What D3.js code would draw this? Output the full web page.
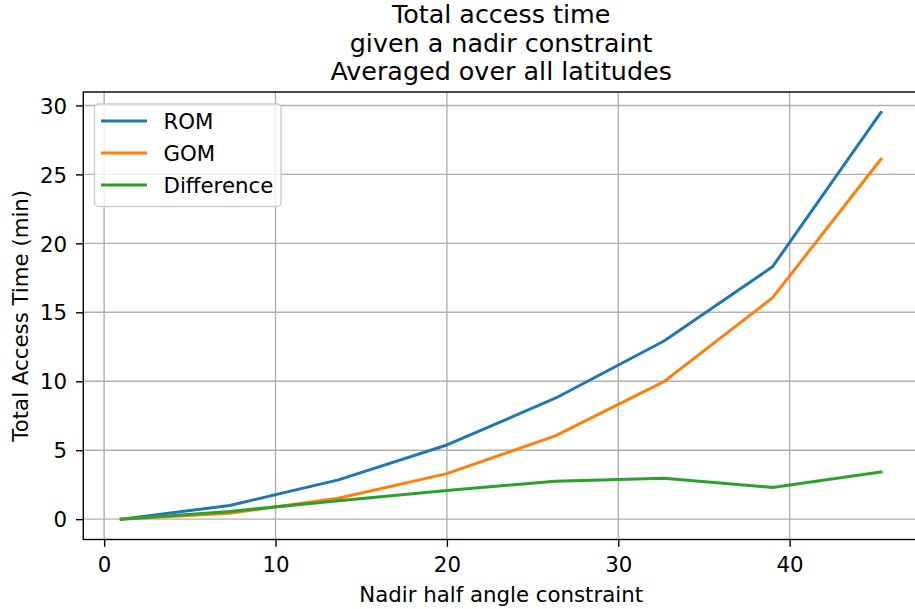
<!DOCTYPE html>
<html>
<head>
<meta charset="utf-8">
<script src="https://cdn.jsdelivr.net/npm/d3@7"></script>
<style>
  html, body { margin: 0; padding: 0; background: #fff; }
  svg { display: block; font-family: "DejaVu Sans", sans-serif; }
</style>
</head>
<body>
<svg id="chart" width="915" height="609"></svg>
<script>
// Nadir half angle (deg) sample points
const nadirAngles = [1, 7.33, 13.67, 20, 26.33, 32.67, 39, 45.33];
// Averaged total access time (min)
const romValues  = [0, 0.99, 2.85, 5.38, 8.77, 12.92, 18.3, 29.5];
const gomValues  = [0, 0.43, 1.52, 3.30, 6.04, 9.97, 16.05, 26.1];
const diffValues = [0, 0.56, 1.33, 2.08, 2.75, 2.96, 2.3, 3.42];

const xTicks = [0, 10, 20, 30, 40];
const yTicks = [0, 5, 10, 15, 20, 25, 30];

const seriesNames  = ["ROM", "GOM", "Difference"];
const seriesColors = ["#1f77b4", "#ff7f0e", "#2ca02c"];
const seriesValues = [romValues, gomValues, diffValues];

const titleLines = ["Total access time", "given a nadir constraint", "Averaged over all latitudes"];

const svg = d3.select("#chart");
const plot = { left: 83.3, right: 919, top: 92, bottom: 539.5 };

const x = d3.scaleLinear().domain([-1.217, 47.55]).range([plot.left, plot.right]);
const y = d3.scaleLinear().domain([-1.475, 30.975]).range([plot.bottom, plot.top]);

const tickFont = 21.3;

// grid
const grid = svg.append("g");
grid.selectAll(".gx").data(xTicks).join("line")
  .attr("x1", d => x(d)).attr("x2", d => x(d))
  .attr("y1", plot.top).attr("y2", plot.bottom)
  .attr("stroke", "#b0b0b0").attr("stroke-width", 1.4);
grid.selectAll(".gy").data(yTicks).join("line")
  .attr("x1", plot.left).attr("x2", plot.right)
  .attr("y1", d => y(d)).attr("y2", d => y(d))
  .attr("stroke", "#b0b0b0").attr("stroke-width", 1.4);

// series lines
const line = d3.line().x((d, i) => x(nadirAngles[i])).y(d => y(d));
seriesValues.forEach((vals, k) => {
  svg.append("path").datum(vals)
    .attr("d", line)
    .attr("fill", "none")
    .attr("stroke", seriesColors[k])
    .attr("stroke-width", 3)
    .attr("stroke-linejoin", "round")
    .attr("stroke-linecap", "square");
});

// axes
const xAxis = svg.append("g").attr("transform", `translate(0,${plot.bottom})`)
  .call(d3.axisBottom(x).tickValues(xTicks).tickSize(7.3).tickPadding(10));
const yAxis = svg.append("g").attr("transform", `translate(${plot.left},0)`)
  .call(d3.axisLeft(y).tickValues(yTicks).tickSize(7.3).tickPadding(9));
[xAxis, yAxis].forEach(g => {
  g.selectAll("text").attr("font-size", tickFont).attr("fill", "#000")
    .attr("font-family", "DejaVu Sans, sans-serif");
  g.selectAll("line").attr("stroke", "#000").attr("stroke-width", 1.4);
  g.select(".domain").remove();
});
yAxis.selectAll("text").attr("dy", "0.36em");

// frame
svg.append("rect")
  .attr("x", plot.left).attr("y", plot.top)
  .attr("width", plot.right - plot.left).attr("height", plot.bottom - plot.top)
  .attr("fill", "none").attr("stroke", "#000").attr("stroke-width", 1.4);

// title
svg.append("g").selectAll("text").data(titleLines).join("text")
  .attr("x", (plot.left + plot.right) / 2)
  .attr("y", (d, i) => 22.7 + i * 28.8)
  .attr("text-anchor", "middle")
  .attr("font-size", 25.4)
  .text(d => d);

// axis labels
svg.append("text")
  .attr("x", (plot.left + plot.right) / 2).attr("y", 601.5)
  .attr("text-anchor", "middle").attr("font-size", tickFont)
  .text("Nadir half angle constraint");
svg.append("text")
  .attr("transform", `translate(28,${(plot.top + plot.bottom) / 2}) rotate(-90)`)
  .attr("text-anchor", "middle").attr("font-size", tickFont)
  .text("Total Access Time (min)");

// legend
const legend = svg.append("g");
legend.append("rect")
  .attr("x", 94.5).attr("y", 104).attr("width", 186.5).attr("height", 102.5)
  .attr("rx", 4).attr("fill", "#fff").attr("fill-opacity", 0.8)
  .attr("stroke", "#cccccc").attr("stroke-width", 1.4);
seriesNames.forEach((name, k) => {
  const ly = 121 + k * 32;
  legend.append("line")
    .attr("x1", 101).attr("x2", 147).attr("y1", ly).attr("y2", ly)
    .attr("stroke", seriesColors[k]).attr("stroke-width", 3);
  legend.append("text")
    .attr("x", 163.5).attr("y", ly).attr("dy", "0.36em")
    .attr("font-size", tickFont).text(name);
});
</script>
</body>
</html>
